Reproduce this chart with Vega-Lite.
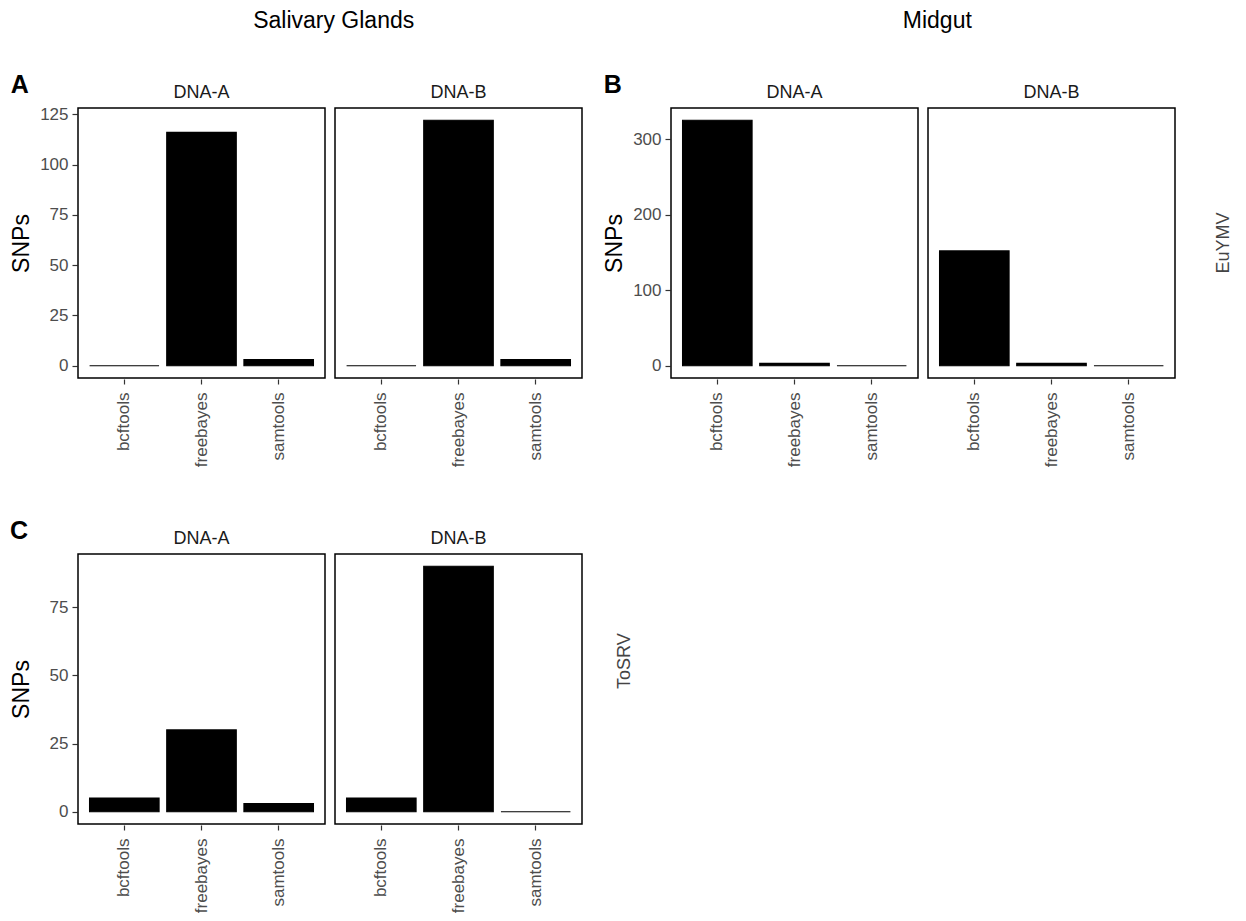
{
  "$schema": "https://vega.github.io/schema/vega-lite/v6.json",
  "background": "white",
  "padding": {"left": 10, "top": 10, "right": 5, "bottom": 5},
  "config": {
    "font": "Liberation Sans",
    "view": {"stroke": "black", "strokeWidth": 1.5},
    "axis": {"grid": false, "domain": false, "tickColor": "#333333", "tickSize": 5, "tickWidth": 1.2, "labelColor": "#4d4d4d", "labelFontSize": 17, "labelPadding": 4, "titleFontSize": 23, "titleFontWeight": "normal", "titleColor": "black", "titlePadding": 6},
    "axisX": {"labelPadding": 8},
    "header": {"labelFontSize": 18, "labelColor": "#1a1a1a"},
    "title": {"fontWeight": "normal", "fontSize": 23, "color": "black"}
  },
  "datasets": {
    "sg_euymv": [
      {"virus": "EuYMV", "segment": "DNA-A", "tool": "bcftools", "snps": 0},
      {"virus": "EuYMV", "segment": "DNA-A", "tool": "freebayes", "snps": 116},
      {"virus": "EuYMV", "segment": "DNA-A", "tool": "samtools", "snps": 3},
      {"virus": "EuYMV", "segment": "DNA-B", "tool": "bcftools", "snps": 0},
      {"virus": "EuYMV", "segment": "DNA-B", "tool": "freebayes", "snps": 122},
      {"virus": "EuYMV", "segment": "DNA-B", "tool": "samtools", "snps": 3}
    ],
    "mg_euymv": [
      {"virus": "EuYMV", "segment": "DNA-A", "tool": "bcftools", "snps": 325},
      {"virus": "EuYMV", "segment": "DNA-A", "tool": "freebayes", "snps": 3},
      {"virus": "EuYMV", "segment": "DNA-A", "tool": "samtools", "snps": 0},
      {"virus": "EuYMV", "segment": "DNA-B", "tool": "bcftools", "snps": 152},
      {"virus": "EuYMV", "segment": "DNA-B", "tool": "freebayes", "snps": 3},
      {"virus": "EuYMV", "segment": "DNA-B", "tool": "samtools", "snps": 0}
    ],
    "sg_tosrv": [
      {"virus": "ToSRV", "segment": "DNA-A", "tool": "bcftools", "snps": 5},
      {"virus": "ToSRV", "segment": "DNA-A", "tool": "freebayes", "snps": 30},
      {"virus": "ToSRV", "segment": "DNA-A", "tool": "samtools", "snps": 3},
      {"virus": "ToSRV", "segment": "DNA-B", "tool": "bcftools", "snps": 5},
      {"virus": "ToSRV", "segment": "DNA-B", "tool": "freebayes", "snps": 90},
      {"virus": "ToSRV", "segment": "DNA-B", "tool": "samtools", "snps": 0}
    ]
  },
  "columns": 1,
  "spacing": 52,
  "align": "none",
  "concat": [
    {
      "spacing": 20,
      "hconcat": [
        {
          "title": {"text": "Salivary Glands", "anchor": "middle", "offset": 40, "dx": 37},
          "vconcat": [
            {
              "data": {"name": "sg_euymv"},
              "title": {"text": "A", "fontWeight": "bold", "fontSize": 25, "anchor": "start", "frame": "bounds", "offset": -14},
              "spacing": {"column": 8},
              "facet": {"column": {"field": "segment", "type": "nominal", "header": {"title": null, "labelPadding": 5}}},
              "spec": {
                "width": 247, "height": 270,
                "mark": {"type": "bar", "color": "black", "stroke": "black", "strokeWidth": 1.2},
                "encoding": {
                  "x": {"field": "tool", "type": "nominal", "scale": {"paddingInner": 0.1, "paddingOuter": 0.15}, "axis": {"title": null, "labelAngle": -90}},
                  "y": {"field": "snps", "type": "quantitative", "scale": {"domain": [-6.1, 128.1], "nice": false, "zero": false}, "axis": {"title": "SNPs", "values": [0, 25, 50, 75, 100, 125]}}
                }
              }
            }
          ]
        },
        {
          "title": {"text": "Midgut", "anchor": "middle", "offset": 40, "dx": 19},
          "vconcat": [
            {
              "data": {"name": "mg_euymv"},
              "title": {"text": "B", "fontWeight": "bold", "fontSize": 25, "anchor": "start", "frame": "bounds", "offset": -14},
              "spacing": {"column": 8},
              "facet": {
                "column": {"field": "segment", "type": "nominal", "header": {"title": null, "labelPadding": 5}},
                "row": {"field": "virus", "type": "nominal", "header": {"title": null, "orient": "right", "labelAngle": -90, "labelPadding": 30, "labelColor": "#444444"}}
              },
              "spec": {
                "width": 247, "height": 270,
                "mark": {"type": "bar", "color": "black", "stroke": "black", "strokeWidth": 1.2},
                "encoding": {
                  "x": {"field": "tool", "type": "nominal", "scale": {"paddingInner": 0.1, "paddingOuter": 0.15}, "axis": {"title": null, "labelAngle": -90}},
                  "y": {"field": "snps", "type": "quantitative", "scale": {"domain": [-16.25, 341.25], "nice": false, "zero": false}, "axis": {"title": "SNPs", "values": [0, 100, 200, 300]}}
                }
              }
            }
          ]
        }
      ]
    },
    {
      "data": {"name": "sg_tosrv"},
      "title": {"text": "C", "fontWeight": "bold", "fontSize": 25, "anchor": "start", "frame": "bounds", "offset": -14},
      "spacing": {"column": 8},
      "facet": {
        "column": {"field": "segment", "type": "nominal", "header": {"title": null, "labelPadding": 5}},
        "row": {"field": "virus", "type": "nominal", "header": {"title": null, "orient": "right", "labelAngle": -90, "labelAlign": "left", "labelPadding": 24, "labelColor": "#444444"}}
      },
      "spec": {
        "width": 247, "height": 270,
        "mark": {"type": "bar", "color": "black", "stroke": "black", "strokeWidth": 1.2},
        "encoding": {
          "x": {"field": "tool", "type": "nominal", "scale": {"paddingInner": 0.1, "paddingOuter": 0.15}, "axis": {"title": null, "labelAngle": -90}},
          "y": {"field": "snps", "type": "quantitative", "scale": {"domain": [-4.5, 94.5], "nice": false, "zero": false}, "axis": {"title": "SNPs", "titlePadding": 16, "values": [0, 25, 50, 75]}}
        }
      }
    }
  ]
}
